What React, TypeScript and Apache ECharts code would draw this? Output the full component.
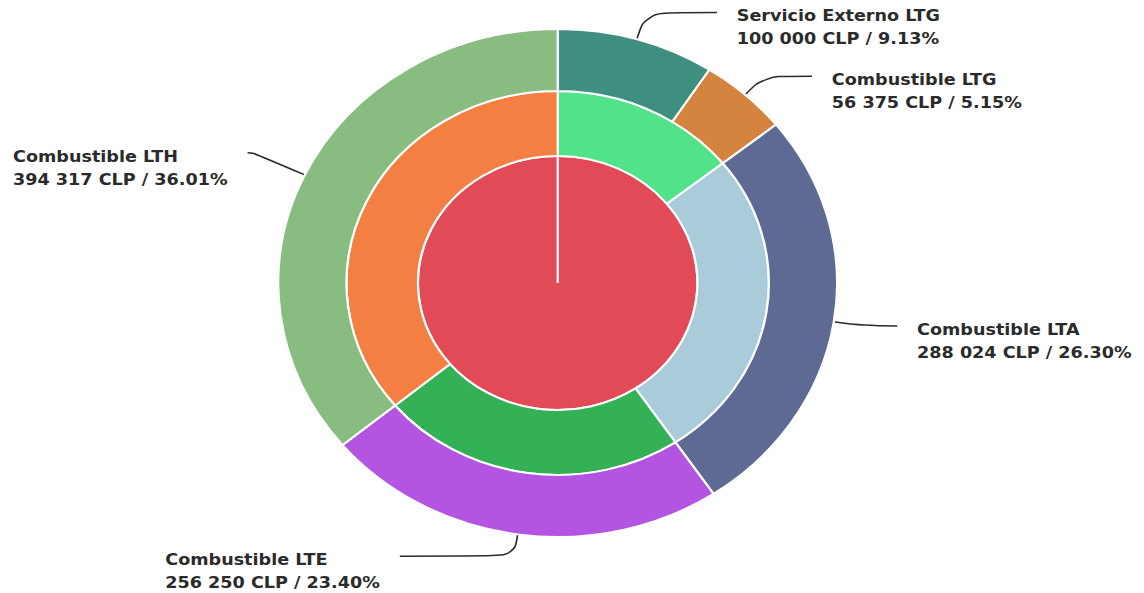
import React, { useEffect, useRef } from "react";
import * as echarts from "echarts";

// ---- data ----
const itemNames = [
  "Servicio Externo LTG",
  "Combustible LTG",
  "Combustible LTA",
  "Combustible LTE",
  "Combustible LTH",
];
const itemValues = [100000, 56375, 288024, 256250, 394317];
const groupNames = ["LTG", "LTA", "LTE", "LTH"];
const groupValues = [156375, 288024, 256250, 394317];
const totalName = "Total";
const totalValue = 1094966;

// ---- styles ----
const itemColors = ["#3F8F80", "#D58440", "#5E6A94", "#B455E2", "#88BC80"];
const groupColors = ["#52E38A", "#A9CBDA", "#34B057", "#F37F42"];
const totalColor = "#E24A58";
const lineLen1 = [28, 25, 28, 22, 52];
const lineLen2 = [65, 44, 30, 104, 5];

const CX = 507;
const CY = 283;
const R0 = 127;
const R1 = 192;
const R2 = 254;

const fmt = (v: number) => String(v).replace(/\B(?=(\d{3})+(?!\d))/g, " ");
const itemSum = itemValues.reduce((a, b) => a + b, 0);

export default function App() {
  const ref = useRef<HTMLDivElement>(null);
  useEffect(() => {
    if (!ref.current) return;
    const chart = echarts.init(ref.current, null, { renderer: "svg" });
    const border = { borderColor: "#ffffff", borderWidth: 2 };
    chart.setOption({
      animation: false,
      backgroundColor: "#ffffff",
      series: [
        {
          type: "pie",
          silent: true,
          center: [CX, CY],
          radius: [0, R0],
          startAngle: 90,
          label: { show: false },
          labelLine: { show: false },
          data: [{ name: totalName, value: totalValue, itemStyle: { color: totalColor, ...border } }],
        },
        {
          type: "pie",
          silent: true,
          center: [CX, CY],
          radius: [R0, R1],
          startAngle: 90,
          label: { show: false },
          labelLine: { show: false },
          data: groupNames.map((n, i) => ({
            name: n,
            value: groupValues[i],
            itemStyle: { color: groupColors[i], ...border },
          })),
        },
        {
          type: "pie",
          silent: true,
          center: [CX, CY],
          radius: [R1, R2],
          startAngle: 90,
          avoidLabelOverlap: false,
          label: {
            show: true,
            position: "outside",
            distanceToLabelLine: 18,
            padding: [29, 0, 0, 0],
            formatter: (p: any) =>
              `{a|${p.name}}\n{a|${fmt(p.value)} CLP / ${((p.value / itemSum) * 100).toFixed(2)}%}`,
            rich: {
              a: {
                align: "left",
                fontFamily: "DejaVu Sans",
                fontWeight: "bold",
                fontSize: 16,
                lineHeight: 23,
                color: "#2b2b2b",
              },
            },
          },
          labelLine: {
            show: true,
            smooth: 0.4,
            lineStyle: { color: "#2b2b2b", width: 1.5 },
          },
          data: itemNames.map((n, i) => ({
            name: n,
            value: itemValues[i],
            itemStyle: { color: itemColors[i], ...border },
            labelLine: { length: lineLen1[i], length2: lineLen2[i] },
          })),
        },
      ],
      graphic: [
        {
          type: "line",
          z: 100,
          silent: true,
          shape: { x1: CX, y1: CY, x2: CX, y2: CY - R0 },
          style: { stroke: "#ffffff", lineWidth: 2 },
        },
      ],
    });
    return () => chart.dispose();
  }, []);
  return (
    <div
      ref={ref}
      style={{
        position: "fixed",
        left: 0,
        top: 0,
        width: 1040,
        height: 593,
        transform: "scaleX(1.1)",
        transformOrigin: "0 0",
      }}
    />
  );
}
